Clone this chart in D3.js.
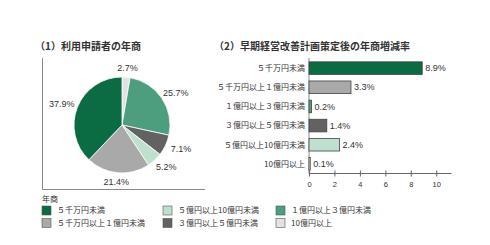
<!DOCTYPE html>
<html>
<head>
<meta charset="utf-8">
<script src="https://cdn.jsdelivr.net/npm/d3@7"></script>
<style>
	body { margin: 0; background: #fff; }
	svg { display: block; font-family: "Noto Sans CJK JP", sans-serif; }
	.num { font-family: "Liberation Sans", Arial, sans-serif; }
</style>
</head>
<body>
<svg id="chart" width="490" height="245"></svg>
<script>
// Categories (legend order) and colours
const categories = [ '５千万円未満', '５千万円以上１億円未満', '１億円以上３億円未満', '３億円以上５億円未満', '５億円以上10億円未満', '10億円以上' ];
const colors = [ '#0b6b43', '#a9a9a9', '#4d9e7e', '#626262', '#bfe0cf', '#e2e2e2' ];

// Pie: share of applicants by annual sales (drawn clockwise from top)
const pieOrder = [ '10億円以上', '１億円以上３億円未満', '３億円以上５億円未満', '５億円以上10億円未満', '５千万円以上１億円未満', '５千万円未満' ];
const pieValues = [ 2.7, 25.7, 7.1, 5.2, 21.4, 37.9 ];

// Bars: sales growth rate after plan
const barValues = [ 8.9, 3.3, 0.2, 1.4, 2.4, 0.1 ];
const xTicks = [ 0, 2, 4, 6, 8, 10 ];

const legendOrder = [ '５千万円未満', '５億円以上10億円未満', '１億円以上３億円未満', '５千万円以上１億円未満', '３億円以上５億円未満', '10億円以上' ];

const colorScale = d3.scaleOrdinal().domain( categories ).range( colors );
const svg = d3.select( '#chart' );

// Titles
svg.append( 'text' ).attr( 'x', 35 ).attr( 'y', 50 )
	.attr( 'font-size', 10 ).attr( 'font-weight', 'bold' ).attr( 'fill', '#333' )
	.text( '（1）利用申請者の年商' );
svg.append( 'text' ).attr( 'x', 214 ).attr( 'y', 50 )
	.attr( 'font-size', 10 ).attr( 'font-weight', 'bold' ).attr( 'fill', '#333' )
	.text( '（2）早期経営改善計画策定後の年商増減率' );

// Pie frame
svg.append( 'path' )
	.attr( 'd', 'M42.5,58V189.5H205' )
	.attr( 'fill', 'none' ).attr( 'stroke', '#888' ).attr( 'stroke-width', 1 );

const cx = 122, cy = 125, r = 48;
const pie = d3.pie().sort( null ).value( ( d ) => d.v );
const arcs = pie( pieOrder.map( ( k, i ) => ( { k, v: pieValues[ i ] } ) ) );
const arc = d3.arc().innerRadius( 0 ).outerRadius( r );
const pieG = svg.append( 'g' ).attr( 'transform', `translate(${ cx },${ cy })` );
pieG.selectAll( 'path' )
	.data( arcs )
	.enter()
	.append( 'path' )
	.attr( 'd', arc )
	.attr( 'fill', ( d ) => colorScale( d.data.k ) )
	.attr( 'stroke', '#fff' )
	.attr( 'stroke-width', 0.8 );

pieG.selectAll( 'text' )
	.data( arcs )
	.enter()
	.append( 'text' )
	.attr( 'class', 'num' )
	.attr( 'x', ( d ) => {
		const a = ( d.startAngle + d.endAngle ) / 2;
		return Math.sin( a ) * 57 + Math.sin( a ) * 8;
	} )
	.attr( 'y', ( d ) => -Math.cos( ( d.startAngle + d.endAngle ) / 2 ) * 57 )
	.attr( 'dy', '0.35em' )
	.attr( 'text-anchor', 'middle' )
	.attr( 'font-size', 9 )
	.attr( 'fill', '#333' )
	.text( ( d ) => d.data.v.toFixed( 1 ) + '%' );

// Bar chart
const x = d3.scaleLinear().domain( [ 0, 11.2 ] ).range( [ 309, 451.5 ] );
const y = d3.scaleBand().domain( categories ).range( [ 58, 174 ] ).paddingInner( 0.34 ).paddingOuter( 0.2 );

svg.append( 'line' )
	.attr( 'x1', x( 0 ) ).attr( 'x2', x( 0 ) )
	.attr( 'y1', 58 ).attr( 'y2', 173.5 )
	.attr( 'stroke', '#888' );

svg.selectAll( '.bar' )
	.data( barValues )
	.enter()
	.append( 'rect' )
	.attr( 'class', 'bar' )
	.attr( 'x', x( 0 ) )
	.attr( 'y', ( d, i ) => y( categories[ i ] ) )
	.attr( 'width', ( d ) => x( d ) - x( 0 ) )
	.attr( 'height', y.bandwidth() )
	.attr( 'fill', ( d, i ) => colors[ i ] )
	.attr( 'stroke', '#444' )
	.attr( 'stroke-width', 0.8 );

svg.selectAll( '.bar-label' )
	.data( barValues )
	.enter()
	.append( 'text' )
	.attr( 'class', 'num' )
	.attr( 'x', ( d ) => x( d ) + 3 )
	.attr( 'y', ( d, i ) => y( categories[ i ] ) + y.bandwidth() / 2 )
	.attr( 'dy', '0.35em' )
	.attr( 'font-size', 9 )
	.attr( 'fill', '#333' )
	.text( ( d ) => d.toFixed( 1 ) + '%' );

svg.selectAll( '.cat-label' )
	.data( categories )
	.enter()
	.append( 'text' )
	.attr( 'x', 305 )
	.attr( 'y', ( d ) => y( d ) + y.bandwidth() / 2 )
	.attr( 'dy', '0.35em' )
	.attr( 'text-anchor', 'end' )
	.attr( 'font-size', 8 )
	.attr( 'fill', '#333' )
	.text( ( d ) => d );

const xAxis = svg.append( 'g' )
	.attr( 'transform', 'translate(0,173.5)' )
	.call( d3.axisBottom( x ).tickValues( xTicks ).tickSize( 3 ).tickPadding( 5 ) );
xAxis.select( '.domain' ).attr( 'stroke', '#666' ).attr( 'd', `M${ x( 0 ) },0H451.5` );
xAxis.selectAll( '.tick line' ).attr( 'y1', -3 ).attr( 'y2', 3 ).attr( 'stroke', '#666' );
xAxis.selectAll( 'text' ).attr( 'font-size', 7.5 ).attr( 'fill', '#333' )
	.attr( 'font-family', '"Liberation Sans", Arial, sans-serif' );

// Legend
svg.append( 'text' ).attr( 'x', 42 ).attr( 'y', 202 )
	.attr( 'font-size', 8 ).attr( 'fill', '#333' )
	.text( '年商' );
const colX = [ 42, 163, 276 ];
const rowY = [ 206, 218.5 ];
const legend = svg.selectAll( '.legend' )
	.data( legendOrder )
	.enter()
	.append( 'g' )
	.attr( 'transform', ( d, i ) => `translate(${ colX[ i % 3 ] },${ rowY[ Math.floor( i / 3 ) ] })` );
legend.append( 'rect' )
	.attr( 'width', 9 ).attr( 'height', 9 )
	.attr( 'fill', ( d ) => colorScale( d ) )
	.attr( 'stroke', '#555' ).attr( 'stroke-width', 0.6 );
legend.append( 'text' )
	.attr( 'x', 15 ).attr( 'y', 4.5 ).attr( 'dy', '0.35em' )
	.attr( 'font-size', 8 ).attr( 'fill', '#333' )
	.text( ( d ) => d );
</script>
</body>
</html>
